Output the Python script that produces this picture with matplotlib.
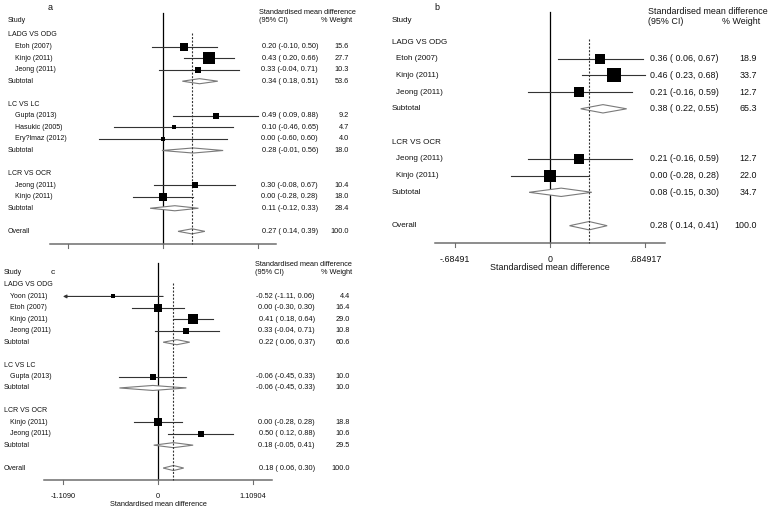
import numpy as np
import matplotlib
matplotlib.use("Agg")
import matplotlib.pyplot as plt
from matplotlib.patches import Polygon

plt.rcParams["font.family"] = ["Liberation Sans", "DejaVu Sans"]

W, H, DPI = 771, 514, 100

# ---------------------------------------------------------------------------
# Panel a
# ---------------------------------------------------------------------------
A_LABELS = ["LADG VS ODG", "Etoh (2007)", "Kinjo (2011)", "Jeong (2011)", "Subtotal", "",
            "LC VS LC", "Gupta (2013)", "Hasukic (2005)", "Ery?lmaz (2012)", "Subtotal", "",
            "LCR VS OCR", "Jeong (2011)", "Kinjo (2011)", "Subtotal", "", "Overall"]
A_KIND = ["head", "study", "study", "study", "sub", "",
          "head", "study", "study", "study", "sub", "",
          "head", "study", "study", "sub", "", "all"]
A_ES = [None, 0.20, 0.43, 0.33, 0.34, None, None, 0.49, 0.10, 0.00, 0.28, None,
        None, 0.30, 0.00, 0.11, None, 0.27]
A_LO = [None, -0.10, 0.20, -0.04, 0.18, None, None, 0.09, -0.46, -0.60, -0.01, None,
        None, -0.08, -0.28, -0.12, None, 0.14]
A_HI = [None, 0.50, 0.66, 0.71, 0.51, None, None, 0.88, 0.65, 0.60, 0.56, None,
        None, 0.67, 0.28, 0.33, None, 0.39]
A_WT = [None, 15.6, 27.7, 10.3, 53.6, None, None, 9.2, 4.7, 4.0, 18.0, None,
        None, 10.4, 18.0, 28.4, None, 100.0]
A_TICK = 0.88
A_TICKLABELS = None

# ---------------------------------------------------------------------------
# Panel b
# ---------------------------------------------------------------------------
B_LABELS = ["LADG VS ODG", "Etoh (2007)", "Kinjo (2011)", "Jeong (2011)", "Subtotal", "",
            "LCR VS OCR", "Jeong (2011)", "Kinjo (2011)", "Subtotal", "", "Overall"]
B_KIND = ["head", "study", "study", "study", "sub", "",
          "head", "study", "study", "sub", "", "all"]
B_ES = [None, 0.36, 0.46, 0.21, 0.38, None, None, 0.21, 0.00, 0.08, None, 0.28]
B_LO = [None, 0.06, 0.23, -0.16, 0.22, None, None, -0.16, -0.28, -0.15, None, 0.14]
B_HI = [None, 0.67, 0.68, 0.59, 0.55, None, None, 0.59, 0.28, 0.30, None, 0.41]
B_WT = [None, 18.9, 33.7, 12.7, 65.3, None, None, 12.7, 22.0, 34.7, None, 100.0]
B_TICK = 0.684917
B_TICKLABELS = ["-.68491", "0", ".684917"]

# ---------------------------------------------------------------------------
# Panel c
# ---------------------------------------------------------------------------
C_LABELS = ["LADG VS ODG", "Yoon (2011)", "Etoh (2007)", "Kinjo (2011)", "Jeong (2011)", "Subtotal", "",
            "LC VS LC", "Gupta (2013)", "Subtotal", "",
            "LCR VS OCR", "Kinjo (2011)", "Jeong (2011)", "Subtotal", "", "Overall"]
C_KIND = ["head", "study", "study", "study", "study", "sub", "",
          "head", "study", "sub", "",
          "head", "study", "study", "sub", "", "all"]
C_ES = [None, -0.52, 0.00, 0.41, 0.33, 0.22, None, None, -0.06, -0.06, None,
        None, 0.00, 0.50, 0.18, None, 0.18]
C_LO = [None, -1.11, -0.30, 0.18, -0.04, 0.06, None, None, -0.45, -0.45, None,
        None, -0.28, 0.12, -0.05, None, 0.06]
C_HI = [None, 0.06, 0.30, 0.64, 0.71, 0.37, None, None, 0.33, 0.33, None,
        None, 0.28, 0.88, 0.41, None, 0.30]
C_WT = [None, 4.4, 16.4, 29.0, 10.8, 60.6, None, None, 10.0, 10.0, None,
        None, 18.8, 10.6, 29.5, None, 100.0]
C_TICK = 1.10904
C_TICKLABELS = ["-1.1090", "0", "1.10904"]

# ---------------------------------------------------------------------------
# Layout (pixel positions)
# ---------------------------------------------------------------------------
LAYOUT_A = dict(box=(0, 0, 385, 258), zero=163, ppu=107.4, row0=35, dy=11.55,
                axis_y=244, zero_top=13, box_c=2.1, dh=0.22,
                lab_x=8, name_x=15, ci_r=318, wt_r=349, hdr_x=259, hdr_y1=13, hdr_y2=21,
                wt_hdr_r=352, study_y=21, letter=("a", 50, 8),
                ticklab_y=None, xlabel_y=None, fs_label=5.0, fs_col=5.3, fs_letter=6.5)
LAYOUT_B = dict(box=(385, 0, 771, 280), zero=550, ppu=139.4, row0=42, dy=16.7,
                axis_y=243, zero_top=12, box_c=2.53, dh=0.25,
                lab_x=392, name_x=396, ci_r=719, wt_r=757, hdr_x=648, hdr_y1=12, hdr_y2=21,
                wt_hdr_r=760, study_y=21, letter=("b", 437, 8),
                ticklab_y=260, xlabel_y=268, fs_label=5.8, fs_col=6.4, fs_letter=6.5)
LAYOUT_C = dict(box=(0, 258, 385, 514), zero=158, ppu=85.7, row0=285, dy=11.44,
                axis_y=480, zero_top=263, box_c=2.0, dh=0.22,
                lab_x=4, name_x=10, ci_r=315, wt_r=350, hdr_x=255, hdr_y1=265, hdr_y2=272,
                wt_hdr_r=352, study_y=273, letter=("c", 53, 273),
                ticklab_y=497, xlabel_y=505, fs_label=5.0, fs_col=5.3, fs_letter=6.0)


def panel_axes(fig, lay):
    L, T, R, B = lay["box"]
    ax = fig.add_axes([L / W, 1 - B / H, (R - L) / W, (B - T) / H])
    ax.set_xlim((L - lay["zero"]) / lay["ppu"], (R - lay["zero"]) / lay["ppu"])
    ax.set_ylim((B - lay["row0"]) / lay["dy"], (T - lay["row0"]) / lay["dy"])
    ax.axis("off")
    return ax


def draw_panel(fig, lay, labels, kind, es, lo, hi, wt, tick, ticklabels):
    ax = panel_axes(fig, lay)
    px = lambda p: (p - lay["zero"]) / lay["ppu"]
    py = lambda p: (p - lay["row0"]) / lay["dy"]
    fs_l, fs_c = lay["fs_label"], lay["fs_col"]
    ink = "#111111"
    axis_y = py(lay["axis_y"])
    overall = es[kind.index("all")]

    # reference lines
    ax.plot([0, 0], [py(lay["zero_top"]), axis_y], color="black", lw=0.9, zorder=2)
    ax.plot([overall, overall], [-0.2, axis_y], color="#333333", lw=0.8,
            ls=(0, (1.8, 1.4)), zorder=3)

    # x axis
    ax.plot([-1.2 * tick, 1.2 * tick], [axis_y, axis_y], color="#6e6e6e", lw=1.1, zorder=2)
    for t in (-tick, 0, tick):
        ax.plot([t, t], [axis_y, py(lay["axis_y"] + 4)], color="#6e6e6e", lw=0.8)
    if ticklabels:
        for t, s in zip((-tick, 0, tick), ticklabels):
            ax.text(t, py(lay["ticklab_y"]), s, ha="center", va="center", fontsize=fs_c, color=ink)
        ax.text(0, py(lay["xlabel_y"]), "Standardised mean difference", ha="center",
                va="center", fontsize=fs_c, color=ink)

    # headers
    letter, lx, ly = lay["letter"]
    ax.text(px(lx), py(ly), letter, ha="center", va="center", fontsize=lay["fs_letter"], color=ink)
    ax.text(px(lay["lab_x"]), py(lay["study_y"]), "Study", ha="left", va="center",
            fontsize=fs_l, color=ink)
    ax.text(px(lay["hdr_x"]), py(lay["hdr_y1"]), "Standardised mean difference", ha="left",
            va="center", fontsize=fs_c, color=ink)
    ax.text(px(lay["hdr_x"]), py(lay["hdr_y2"]), "(95% CI)", ha="left", va="center",
            fontsize=fs_c, color=ink)
    ax.text(px(lay["wt_hdr_r"]), py(lay["hdr_y2"]), "% Weight", ha="right", va="center",
            fontsize=fs_c, color=ink)

    for k, lab in enumerate(labels):
        kd = kind[k]
        if not kd:
            continue
        xlab = px(lay["name_x"]) if kd == "study" else px(lay["lab_x"])
        ax.text(xlab, k, lab, ha="left", va="center", fontsize=fs_l, color=ink)
        if kd == "head":
            continue
        e, l, h, w = es[k], lo[k], hi[k], wt[k]
        if kd == "study":
            l_c, h_c = max(l, -tick), min(h, tick)
            if l < -tick:
                ax.annotate("", xy=(l_c, k), xytext=(h_c, k),
                            arrowprops=dict(arrowstyle="-|>", color="#333333", lw=0.8,
                                            mutation_scale=5, shrinkA=0, shrinkB=0))
            else:
                ax.plot([l_c, h_c], [k, k], color="#333333", lw=0.8, zorder=2)
            side = lay["box_c"] * np.sqrt(w) * 72 / DPI
            ax.scatter([e], [k], marker="s", s=side ** 2, color="black", linewidths=0, zorder=4)
        else:
            d = lay["dh"]
            ax.add_patch(Polygon([(l, k), (e, k - d), (h, k), (e, k + d)], closed=True,
                                 facecolor="white", edgecolor="#7a7a7a", lw=0.8, zorder=2))
        ci = f"{e:.2f} ({l:5.2f}, {h:.2f})"
        ax.text(px(lay["ci_r"]), k, ci, ha="right", va="center", fontsize=fs_c, color=ink)
        ax.text(px(lay["wt_r"]), k, f"{w:.1f}", ha="right", va="center", fontsize=fs_c, color=ink)
    return ax


fig = plt.figure(figsize=(W / DPI, H / DPI), dpi=DPI)
draw_panel(fig, LAYOUT_A, A_LABELS, A_KIND, A_ES, A_LO, A_HI, A_WT, A_TICK, A_TICKLABELS)
draw_panel(fig, LAYOUT_B, B_LABELS, B_KIND, B_ES, B_LO, B_HI, B_WT, B_TICK, B_TICKLABELS)
draw_panel(fig, LAYOUT_C, C_LABELS, C_KIND, C_ES, C_LO, C_HI, C_WT, C_TICK, C_TICKLABELS)
fig.savefig("out.png", dpi=DPI)
